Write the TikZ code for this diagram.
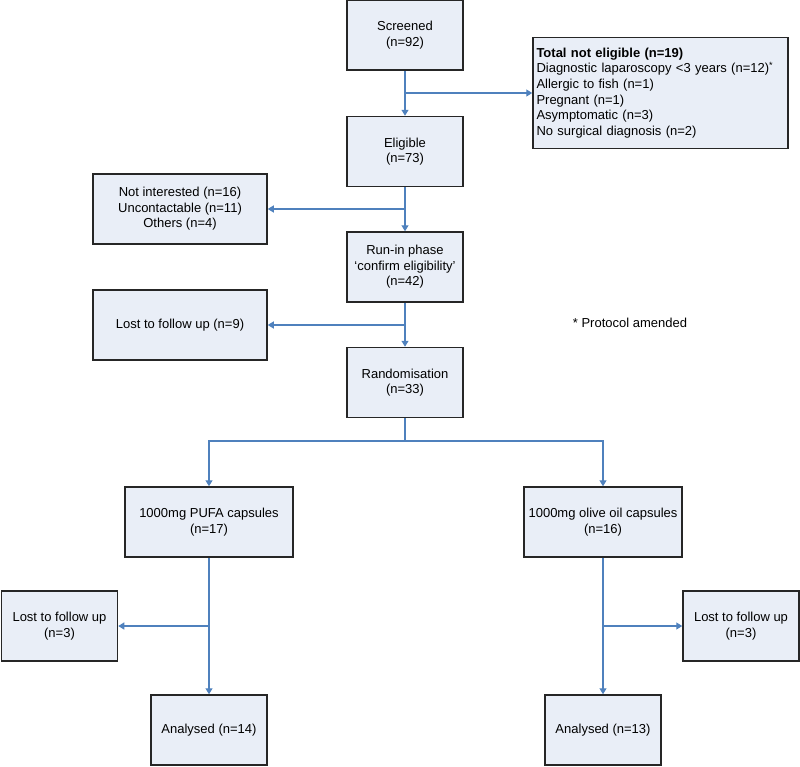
\documentclass[tikz,border=0pt]{standalone}
\usepackage{fontspec}
\setmainfont{Liberation Sans}
\usetikzlibrary{arrows.meta}
\definecolor{taytto}{RGB}{233,238,247}
\definecolor{viiva}{RGB}{79,129,189}
\begin{document}
\begin{tikzpicture}[x=1pt,y=-1pt,
laatikko/.style={draw=black!85,line width=1.5pt,fill=taytto,minimum width=116pt,minimum height=70pt,inner sep=3pt,align=center,font=\fontsize{13}{15.6}\selectfont},
yhdys/.style={draw=viiva,line width=1.2pt},
nuoli/.style={yhdys,-{Triangle[length=6pt,width=7pt]}}]
\useasboundingbox (0,0) rectangle (800,766);
\node[laatikko] (1) at (405,35) {Screened\\(n=92)};
\node[laatikko,minimum width=255pt,minimum height=111pt,text width=248pt,inner xsep=3.5pt,align=left] (2) at (660.5,93) {\textbf{Total not eligible (n=19)}\\Diagnostic laparoscopy <3 years (n=12)\textsuperscript{*}\\Allergic to fish (n=1)\\Pregnant (n=1)\\Asymptomatic (n=3)\\No surgical diagnosis (n=2)};
\node[laatikko] (3) at (405,151.5) {Eligible\\(n=73)};
\node[laatikko,minimum width=174pt] (4) at (180,209) {Not interested (n=16)\\Uncontactable (n=11)\\Others (n=4)};
\node[laatikko] (5) at (405,267) {Run-in phase\\`confirm eligibility'\\(n=42)};
\node[laatikko,minimum width=174pt] (6) at (180,325) {Lost to follow up (n=9)};
\node[font=\fontsize{13}{15.6}\selectfont] (7a) at (630,323) {* Protocol amended};
\node[laatikko] (7) at (405,382.5) {Randomisation\\(n=33)};
\node[laatikko,minimum width=168pt] (8) at (209,522) {1000mg PUFA capsules\\(n=17)};
\node[laatikko,minimum width=158pt] (9) at (603,522) {1000mg olive oil capsules\\(n=16)};
\node[laatikko] (10) at (59.5,626) {Lost to follow up\\(n=3)};
\node[laatikko] (11) at (741,626) {Lost to follow up\\(n=3)};
\node[laatikko] (12) at (209,730) {Analysed (n=14)};
\node[laatikko] (13) at (603,730) {Analysed (n=13)};
\coordinate (a) at (1 |- 2);
\coordinate (b) at (3 |- 4);
\coordinate (c) at (5 |- 6);
\coordinate (d) at (405,441);
\coordinate (e) at (8 |- 10);
\coordinate (f) at (9 |- 11);
\path[nuoli] (1) -- (3);
\path[nuoli] (a) -- (2);
\path[nuoli] (3) -- (5);
\path[nuoli] (b) -- (4);
\path[nuoli] (5) -- (7);
\path[nuoli] (c) -- (6);
\path[yhdys] (7) -- (d);
\path[nuoli] (d) -| (8);
\path[nuoli] (d) -| (9);
\path[nuoli] (8) -- (12);
\path[nuoli] (e) -- (10);
\path[nuoli] (9) -- (13);
\path[nuoli] (f) -- (11);
\end{tikzpicture}
\end{document}
